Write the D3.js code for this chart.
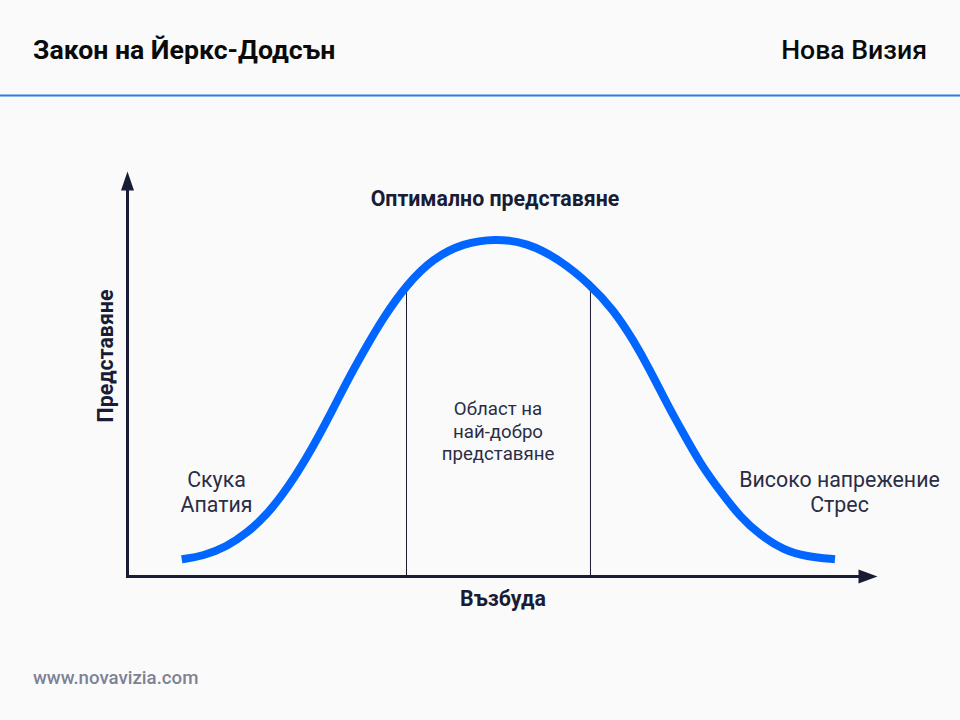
<!DOCTYPE html>
<html>
<head>
<meta charset="utf-8">
<script src="https://d3js.org/d3.v7.min.js"></script>
<style>
html, body { margin: 0; padding: 0; background: #fafafa; }
text { font-family: Roboto, sans-serif; }
</style>
</head>
<body>
<div id="chart"></div>
<script>
// values, both axes 0-100
var curveX = [7.23, 10.11, 13.23, 15.89, 18.56, 21.4, 24.77, 27.44, 29.67, 31.89, 34.11, 37.23, 40.77, 44.77, 49, 53.23, 57.67, 61.67, 64.77, 67.44, 69.67, 71.89, 74.11, 76.33, 79.23, 81.67, 84.33, 87.44, 90.56, 94.33];
var curveY = [4.25, 5.06, 7.36, 10.67, 15.19, 21.85, 32.05, 41.5, 49.6, 56.9, 63.9, 72.1, 78.6, 82.3, 83.45, 82.5, 78.2, 72.1, 65.9, 58.4, 51, 42.77, 35.36, 27.95, 20.54, 14.77, 10.25, 6.54, 4.89, 4.25];
var zoneX = [37.2, 61.73];
var zoneTop = [72, 72];
var leftLabel = ["Скука", "Апатия"];
var rightLabel = ["Високо напрежение", "Стрес"];
var middleLabel = ["Област на", "най-добро", "представяне"];

var width = 960, height = 720;
var dark = "#191c35", blue = "#0066ff";

var svg = d3.select("#chart")
  .append("svg")
    .attr("width", width)
    .attr("height", height)
    .style("display", "block");

svg.append("rect")
  .attr("width", width)
  .attr("height", height)
  .attr("fill", "#fafafa");

// header
svg.append("text")
  .attr("x", 33)
  .attr("y", 59)
  .attr("font-size", "26.67px")
  .attr("font-weight", 700)
  .attr("fill", "#0a0a0a")
  .text("Закон на Йеркс-Додсън");

svg.append("text")
  .attr("x", 927)
  .attr("y", 59)
  .attr("text-anchor", "end")
  .attr("font-size", "26.67px")
  .attr("font-weight", 500)
  .attr("fill", "#0a0a0a")
  .text("Нова Визия");

svg.append("line")
  .attr("x1", 0)
  .attr("x2", width)
  .attr("y1", 95.5)
  .attr("y2", 95.5)
  .attr("stroke", "#2a7de1")
  .attr("stroke-width", 2);

svg.append("text")
  .attr("x", 33)
  .attr("y", 684)
  .attr("font-size", "18.67px")
  .attr("font-weight", 500)
  .attr("fill", "#7d8296")
  .text("www.novavizia.com");

var x = d3.scaleLinear().domain([0, 100]).range([127.5, 877.5]);
var y = d3.scaleLinear().domain([0, 100]).range([576.5, 171.5]);

// axes with arrow heads
svg.append("line")
  .attr("x1", x(0))
  .attr("x2", x(0))
  .attr("y1", y(0) + 1.5)
  .attr("y2", y(96))
  .attr("stroke", dark)
  .attr("stroke-width", 3);

svg.append("line")
  .attr("x1", x(0) - 1.5)
  .attr("x2", x(98))
  .attr("y1", y(0))
  .attr("y2", y(0))
  .attr("stroke", dark)
  .attr("stroke-width", 3);

svg.append("path")
  .attr("d", "M" + x(0) + "," + y(100) + "L" + (x(0) + 6.5) + "," + (y(100) + 19) + "L" + (x(0) - 6.5) + "," + (y(100) + 19) + "Z")
  .attr("fill", dark);

svg.append("path")
  .attr("d", "M" + x(100) + "," + y(0) + "L" + (x(100) - 19) + "," + (y(0) - 7) + "L" + (x(100) - 19) + "," + (y(0) + 7) + "Z")
  .attr("fill", dark);

// zone lines
svg.selectAll(".zone")
  .data(zoneX)
  .enter().append("line")
    .attr("class", "zone")
    .attr("x1", function(d) { return x(d); })
    .attr("x2", function(d) { return x(d); })
    .attr("y1", y(0))
    .attr("y2", function(d, i) { return y(zoneTop[i]); })
    .attr("stroke", dark)
    .attr("stroke-width", 1);

// curve
var line = d3.line()
  .x(function(d) { return x(d[0]); })
  .y(function(d) { return y(d[1]); })
  .curve(d3.curveBasis);

svg.append("path")
  .datum(d3.zip(curveX, curveY))
  .attr("d", line)
  .attr("fill", "none")
  .attr("stroke", blue)
  .attr("stroke-width", 8);

// labels
svg.append("text")
  .attr("x", 495)
  .attr("y", 206)
  .attr("text-anchor", "middle")
  .attr("font-size", "21.33px")
  .attr("font-weight", 700)
  .attr("fill", dark)
  .text("Оптимално представяне");

svg.append("text")
  .attr("x", 503)
  .attr("y", 606)
  .attr("text-anchor", "middle")
  .attr("font-size", "21.33px")
  .attr("font-weight", 700)
  .attr("fill", dark)
  .text("Възбуда");

svg.append("text")
  .attr("transform", "translate(113,356) rotate(-90)")
  .attr("text-anchor", "middle")
  .attr("font-size", "21.33px")
  .attr("font-weight", 700)
  .attr("fill", dark)
  .text("Представяне");

svg.selectAll(".left")
  .data(leftLabel)
  .enter().append("text")
    .attr("class", "left")
    .attr("x", 216.5)
    .attr("y", function(d, i) { return 487 + i * 25; })
    .attr("text-anchor", "middle")
    .attr("font-size", "21.33px")
    .attr("fill", "#2a2d45")
    .text(function(d) { return d; });

svg.selectAll(".right")
  .data(rightLabel)
  .enter().append("text")
    .attr("class", "right")
    .attr("x", 839.5)
    .attr("y", function(d, i) { return 487 + i * 25; })
    .attr("text-anchor", "middle")
    .attr("font-size", "21.33px")
    .attr("fill", "#2a2d45")
    .text(function(d) { return d; });

svg.selectAll(".middle")
  .data(middleLabel)
  .enter().append("text")
    .attr("class", "middle")
    .attr("x", 498)
    .attr("y", function(d, i) { return 415 + i * 22.5; })
    .attr("text-anchor", "middle")
    .attr("font-size", "18.67px")
    .attr("fill", "#2a2d45")
    .text(function(d) { return d; });
</script>
</body>
</html>
